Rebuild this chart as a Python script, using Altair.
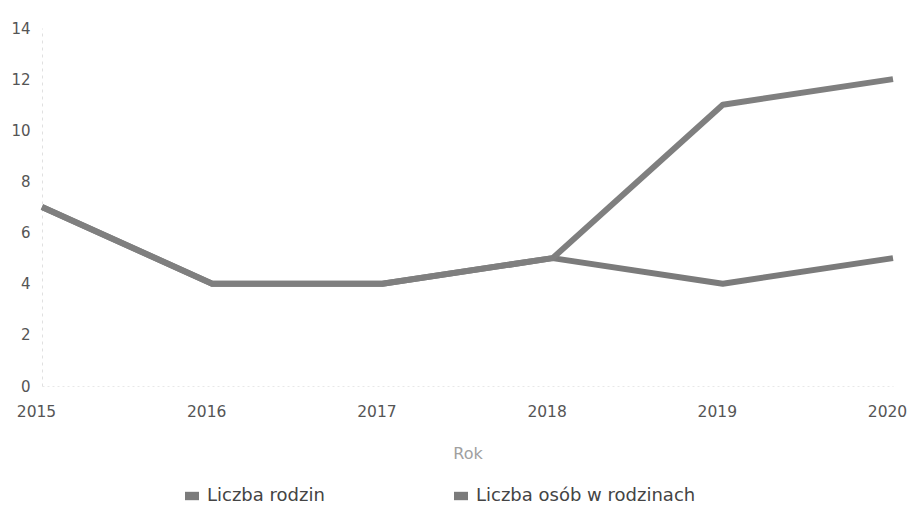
import altair as alt
import pandas as pd

years = ["2015", "2016", "2017", "2018", "2019", "2020"]
rodziny = [7, 4, 4, 5, 4, 5]
osoby = [7, 4, 4, 5, 11, 12]
series_names = ["Liczba rodzin", "Liczba osób w rodzinach"]

rows = []
for y, v in zip(years, rodziny):
    rows.append({"Rok": y, "Wartość": v, "Seria": series_names[0]})
for y, v in zip(years, osoby):
    rows.append({"Rok": y, "Wartość": v, "Seria": series_names[1]})
df = pd.DataFrame(rows)

font = "DejaVu Sans"
chart = alt.Chart(df).mark_line(strokeWidth=6, strokeJoin="round").encode(
    x=alt.X("Rok:O", sort=years, scale=alt.Scale(paddingOuter=0, padding=0),
            axis=alt.Axis(title="Rok", labelAngle=0, labelFont=font, labelFontSize=15.5,
                          labelColor="#555555", titleFont=font, titleFontSize=16,
                          titleFontWeight="normal", titleColor="#a0a0a0", titlePadding=26,
                          domain=True, domainColor="#e8e8e8", domainDash=[2, 3],
                          ticks=False, labelPadding=18, labelOffset=-6, grid=False)),
    y=alt.Y("Wartość:Q", scale=alt.Scale(domain=[0, 14]),
            axis=alt.Axis(title=None, values=[0, 2, 4, 6, 8, 10, 12, 14], labelFont=font,
                          labelFontSize=15, labelColor="#555555", domain=True,
                          domainColor="#e0e0e0", domainDash=[3, 4], ticks=False,
                          labelPadding=12, grid=False)),
    color=alt.Color("Seria:N", sort=series_names,
                    scale=alt.Scale(domain=series_names, range=["#7b7b7b", "#7f7f7f"]),
                    legend=alt.Legend(title=None, orient="none", legendX=141, legendY=459,
                                      direction="horizontal",
                                      symbolType="M-1,-0.6H1V0.6H-1Z",
                                      symbolSize=196, symbolStrokeWidth=0,
                                      symbolFillColor="#7b7b7b",
                                      labelFont=font, labelFontSize=18, labelColor="#444444",
                                      labelLimit=400, columnPadding=127, labelOffset=6)),
    detail="Seria:N",
).properties(
    width=851, height=358,
    autosize=alt.AutoSizeParams(type="none"),
    padding={"left": 34, "top": 20, "right": 16, "bottom": 120},
).configure_view(stroke=None)

chart.save("out.html", embed_options={"renderer": "svg", "actions": False})
